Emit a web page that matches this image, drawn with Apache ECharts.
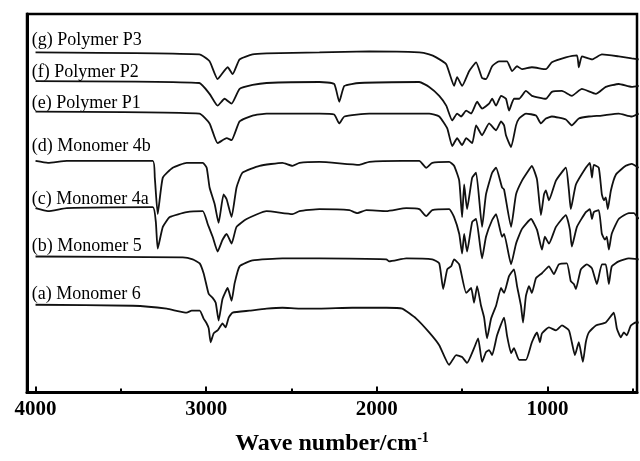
<!DOCTYPE html>
<html><head><meta charset="utf-8">
<script src="https://cdn.jsdelivr.net/npm/echarts@6/dist/echarts.min.js"></script>
<style>html,body{margin:0;padding:0;background:#fff}#c{width:640px;height:461px}</style>
</head><body><div id="c"></div>
<script>
// Series names (bottom to top)
const seriesNames = ['(a) Monomer 6', '(b) Monomer 5', '(c) Monomer 4a', '(d) Monomer 4b', '(e) Polymer P1', '(f) Polymer P2', '(g) Polymer P3'];

// Traces: [wavenumber (cm-1), offset transmittance (arb. units)]
const traceA = [[4000,89],[3430,88],[3231,85],[3114,81],[3085,83],[3038,83],[3015,75],[2997,70],[2985,65],[2974,51],[2956,60],[2933,63],[2904,70],[2886,66],[2868,76],[2845,81],[2746,83],[2646,85],[2553,86],[2453,85],[2336,85],[2143,86],[1944,86],[1851,85],[1769,75],[1693,61],[1634,48],[1576,28],[1535,38],[1500,36],[1471,30],[1430,45],[1406,55],[1383,31],[1360,41],[1342,43],[1324,38],[1295,58],[1254,76],[1237,58],[1213,40],[1196,45],[1166,33],[1126,33],[1091,51],[1061,61],[1044,51],[1032,60],[991,66],[950,63],[915,68],[874,63],[857,51],[839,38],[816,51],[792,31],[775,51],[757,61],[716,68],[658,71],[611,81],[593,65],[570,56],[552,61],[535,58],[511,68],[482,71],[465,71]];
const traceB = [[4000,138],[3137,137],[3079,135],[3038,131],[3015,121],[2997,108],[2985,100],[2962,96],[2944,91],[2927,73],[2904,95],[2874,106],[2851,93],[2833,111],[2804,128],[2728,134],[2553,136],[2336,136],[1944,135],[1927,133],[1827,136],[1675,135],[1634,131],[1611,105],[1587,125],[1564,128],[1547,135],[1517,130],[1476,101],[1447,106],[1430,91],[1412,108],[1389,88],[1371,76],[1354,55],[1330,75],[1301,88],[1272,106],[1254,101],[1225,118],[1196,125],[1178,108],[1155,88],[1143,71],[1126,98],[1108,108],[1091,101],[1067,116],[1032,121],[991,128],[962,120],[933,130],[886,131],[863,113],[845,110],[833,105],[804,125],[769,130],[739,126],[710,110],[681,130],[658,130],[640,110],[623,128],[582,133],[523,136],[465,135]];
const traceC = [[4000,187],[3927,184],[3816,187],[3313,188],[3295,173],[3284,146],[3254,168],[3213,178],[3114,183],[3020,184],[2991,171],[2962,158],[2933,143],[2904,155],[2880,161],[2851,151],[2822,168],[2763,176],[2646,184],[2494,181],[2453,184],[2336,186],[2161,185],[2114,182],[2061,185],[1944,184],[1827,187],[1751,186],[1710,179],[1675,185],[1576,186],[1547,178],[1517,161],[1500,141],[1488,161],[1471,143],[1441,173],[1418,176],[1383,136],[1360,158],[1324,175],[1301,181],[1266,158],[1254,161],[1213,130],[1184,151],[1149,166],[1096,176],[1061,165],[1032,145],[1015,158],[991,151],[950,168],[892,180],[868,165],[857,148],[827,168],[775,183],[751,186],[739,176],[728,183],[699,185],[681,161],[663,155],[652,158],[640,145],[623,161],[582,176],[523,182],[494,182],[465,176]];
const traceD = [[4000,235],[3927,233],[3816,235],[3313,235],[3301,218],[3284,181],[3254,218],[3196,228],[3114,233],[3020,233],[2997,228],[2980,208],[2950,191],[2927,172],[2898,201],[2880,196],[2851,178],[2822,208],[2787,223],[2687,230],[2553,233],[2494,230],[2453,233],[2336,234],[2102,231],[2044,234],[1851,235],[1751,235],[1710,228],[1675,233],[1576,234],[1547,230],[1517,215],[1500,178],[1488,211],[1471,186],[1441,218],[1418,223],[1383,168],[1360,201],[1324,223],[1301,228],[1266,208],[1254,206],[1213,168],[1184,201],[1149,215],[1108,226],[1091,230],[1061,216],[1038,180],[1020,201],[1009,205],[991,195],[950,215],[892,228],[874,205],[863,186],[833,211],[775,228],[751,233],[739,218],[728,231],[699,228],[681,201],[669,195],[658,198],[646,186],[628,205],[599,221],[541,230],[506,232],[465,228]];
const traceE = [[4000,285],[3040,283],[2980,273],[2933,253],[2880,258],[2851,256],[2804,275],[2728,281],[2646,283],[2336,283],[2250,282],[2220,273],[2190,280],[2044,283],[1693,283],[1634,280],[1587,268],[1558,250],[1529,258],[1500,251],[1476,258],[1441,253],[1418,271],[1383,261],[1342,273],[1301,266],[1272,275],[1254,271],[1243,261],[1213,249],[1184,271],[1166,278],[1126,283],[1067,281],[1038,273],[1009,278],[974,280],[892,277],[857,271],[816,278],[757,280],[681,281],[582,283],[506,280],[465,283]];
const traceF = [[4000,316],[3040,314],[2980,303],[2933,291],[2892,298],[2851,293],[2804,308],[2728,312],[2646,314],[2336,315],[2250,313],[2220,295],[2190,311],[2102,314],[1751,315],[1693,310],[1634,301],[1593,291],[1558,276],[1529,283],[1506,280],[1476,286],[1447,283],[1412,295],[1383,288],[1342,293],[1324,298],[1301,291],[1272,301],[1243,298],[1225,286],[1196,298],[1166,298],[1126,306],[1091,301],[1009,298],[974,305],[915,306],[857,301],[798,308],[716,303],[658,310],[582,313],[506,310],[465,311]];
const traceG = [[4000,345],[3040,343],[2980,336],[2933,318],[2874,330],[2845,323],[2804,338],[2728,343],[2646,344],[2336,345],[2044,346],[1751,345],[1693,343],[1652,340],[1593,333],[1547,311],[1529,320],[1500,311],[1459,326],[1418,335],[1383,319],[1360,318],[1324,331],[1284,336],[1237,336],[1207,326],[1178,331],[1149,328],[1091,330],[1009,328],[974,335],[892,340],[827,342],[816,330],[798,341],[739,338],[681,343],[582,341],[506,339],[465,338]];
const traces = [traceA, traceB, traceC, traceD, traceE, traceF, traceG];

// Label anchor (wavenumber) and label heights (arb. units)
const labelWavenumber = 4022;
const labelValues = [100, 148, 196, 250, 293, 325, 357];

// Axis ticks
const majorTicks = [1000, 2000, 3000, 4000];
const minorTicks = [500, 1500, 2500, 3500];
const xMin = 475, xMax = 4050, yMin = 0, yMax = 384;

const chart = echarts.init(document.getElementById('c'), null, {renderer: 'canvas'});
const serif = '"Liberation Serif", "Times New Roman", serif';

const option = {
  animation: false,
  backgroundColor: '#fff',
  grid: {left: 27, right: 3, top: 14, bottom: 63, show: true, borderColor: '#000', borderWidth: 2.5, containLabel: false},
  xAxis: [{
    type: 'value', inverse: true, min: xMin, max: xMax, gridIndex: 0, position: 'bottom',
    axisLine: {show: true, onZero: false, lineStyle: {color: '#000', width: 3}},
    axisTick: {show: true, inside: true, length: 6, lineStyle: {color: '#000', width: 2}, customValues: majorTicks},
    axisLabel: {show: true, customValues: majorTicks, formatter: v => String(v), color: '#000', fontFamily: serif, fontWeight: 'bold', fontSize: 21, margin: 7},
    splitLine: {show: false},
    name: 'Wave number/cm{sup|-1}', nameLocation: 'middle', nameGap: 39,
    nameTextStyle: {color: '#000', fontFamily: serif, fontWeight: 'bold', fontSize: 24,
      rich: {sup: {fontFamily: serif, fontWeight: 'bold', fontSize: 14, verticalAlign: 'top', padding: [0, 0, 11, 0]}}}
  }, {
    type: 'value', inverse: true, min: xMin, max: xMax, gridIndex: 0, position: 'bottom',
    axisLine: {show: false},
    axisTick: {show: true, inside: true, length: 4, lineStyle: {color: '#000', width: 2}, customValues: minorTicks},
    axisLabel: {show: false}, splitLine: {show: false}
  }],
  yAxis: {
    type: 'value', min: yMin, max: yMax,
    axisLine: {show: true, lineStyle: {color: '#000', width: 3}},
    axisTick: {show: false}, axisLabel: {show: false}, splitLine: {show: false}
  },
  series: traces.map((d, i) => ({
    name: seriesNames[i], type: 'line', data: d, xAxisIndex: 0, yAxisIndex: 0,
    showSymbol: false, symbol: 'none', smooth: 0.15, clip: true,
    lineStyle: {color: '#111', width: 1.8}
  }))
};
chart.setOption(option);

const graphics = seriesNames.map((name, i) => {
  const p = chart.convertToPixel({gridIndex: 0}, [labelWavenumber, labelValues[i]]);
  return {type: 'text', x: p[0], y: p[1], style: {text: name, fill: '#000', font: '18px ' + serif, textVerticalAlign: 'middle', textAlign: 'left'}};
});
chart.setOption({graphic: graphics});
</script>
</body></html>
